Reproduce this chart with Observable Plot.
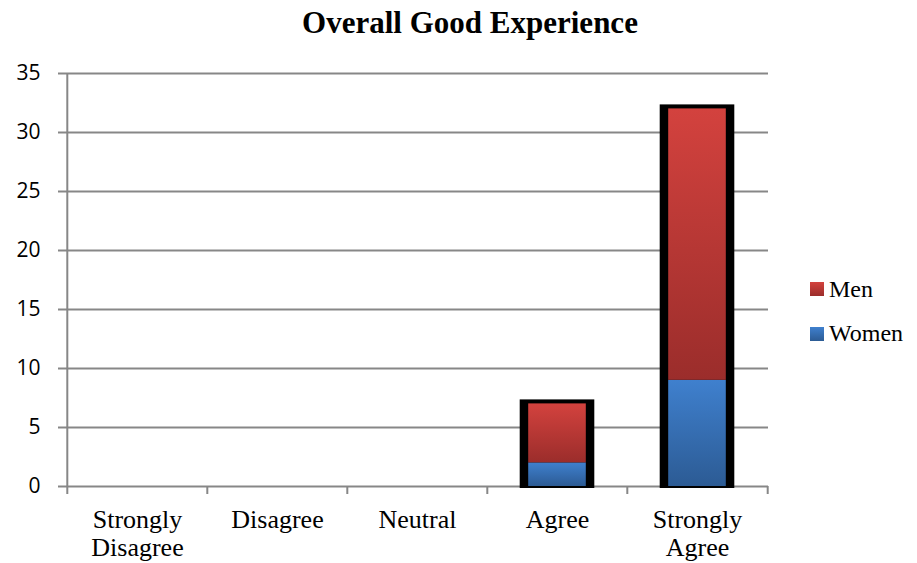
<!DOCTYPE html>
<html>
<head>
<meta charset="utf-8">
<script src="https://cdn.jsdelivr.net/npm/d3@7"></script>
<script src="https://cdn.jsdelivr.net/npm/@observablehq/plot@0.6"></script>
<style>
  body { margin: 0; background: #fff; }
  #wrap { position: relative; width: 917px; height: 563px; overflow: hidden; }
  #wrap svg { position: absolute; left: 0; top: 0; }
  #title { position: absolute; left: 0; width: 940px; top: 7px; text-align: center;
           font: bold 31px "Liberation Serif", serif; line-height: 1; color: #000; }
  .sw { position: absolute; width: 14px; height: 14px; }
  .lt { position: absolute; font: 24px "Liberation Serif", serif; line-height: 1; color: #000; }
</style>
</head>
<body>
<div id="wrap">
  <div id="title">Overall Good Experience</div>
  <div class="sw" style="left:810px;top:282px;background:linear-gradient(#D3423E,#9B2D2B)"></div>
  <div class="lt" style="left:829px;top:277px">Men</div>
  <div class="sw" style="left:810px;top:327px;background:linear-gradient(#3F80CE,#2C5B94)"></div>
  <div class="lt" style="left:829px;top:321px">Women</div>
</div>
<script>
const categories = ["Strongly Disagree", "Disagree", "Neutral", "Agree", "Strongly Agree"];
const xLabels = ["Strongly\nDisagree", "Disagree", "Neutral", "Agree", "Strongly\nAgree"];
const women = [0, 0, 0, 2, 9];
const men = [0, 0, 0, 5, 23];
const yTicks = [0, 5, 10, 15, 20, 25, 30, 35];

const W = 917, H = 563, mL = 66, mR = 149, mT = 73, mB = 77;
const bw = (W - mL - mR) / categories.length;

const womenRows = categories.map((c, i) => ({c, y1: 0, y2: women[i]}));
const menRows = categories.map((c, i) => ({c, y1: women[i], y2: women[i] + men[i]}));
const totalRows = categories.map((c, i) => ({c, total: women[i] + men[i]}));
const labelRows = categories.map((c, i) => ({c, label: xLabels[i]}));

const innerInset = (bw - 58) / 2;
const outerInset = (bw - 75) / 2;

const svg = Plot.plot({
  width: W, height: H,
  marginLeft: mL, marginRight: mR, marginTop: mT, marginBottom: mB,
  style: {fontFamily: "'Open Sans', sans-serif", fontSize: "21px", color: "#000", background: "#fff"},
  x: {domain: categories, padding: 0, axis: null},
  y: {domain: [0, 35], ticks: yTicks, tickSize: 0, tickPadding: 26, label: null},
  marks: [
    Plot.ruleY(yTicks, {stroke: "#878787", strokeWidth: 2, insetLeft: -8}),
    Plot.ruleX([categories[0]], {x: d => d, dx: -bw / 2, stroke: "#878787", strokeWidth: 2, insetBottom: -8}),
    Plot.ruleX(categories.slice(1), {x: d => d, dx: -bw / 2, y1: 0, y2: 0, stroke: "#878787", strokeWidth: 2, insetBottom: -8}),
    Plot.ruleX([categories[categories.length - 1]], {x: d => d, dx: bw / 2, y1: 0, y2: 0, stroke: "#878787", strokeWidth: 2, insetBottom: -8}),
    Plot.barY(totalRows, {x: "c", y: "total", fill: "black", filter: d => d.total > 0,
      insetLeft: outerInset, insetRight: outerInset, insetTop: -4, insetBottom: -2}),
    Plot.barY(womenRows, {x: "c", y1: "y1", y2: "y2", fill: "url(#gWomen)", filter: d => d.y2 > d.y1,
      insetLeft: innerInset, insetRight: innerInset}),
    Plot.barY(menRows, {x: "c", y1: "y1", y2: "y2", fill: "url(#gMen)", filter: d => d.y2 > d.y1,
      insetLeft: innerInset, insetRight: innerInset}),
    Plot.text(labelRows, {x: "c", text: "label", frameAnchor: "bottom", lineAnchor: "top", dy: 21.5,
      lineHeight: 1.09, fontFamily: "'Liberation Serif', serif", fontSize: 26, fill: "#000"})
  ]
});

svg.insertAdjacentHTML("afterbegin",
  `<defs>
    <linearGradient id="gMen" x1="0" y1="0" x2="0" y2="1">
      <stop offset="0" stop-color="#D3423E"/><stop offset="1" stop-color="#9B2D2B"/>
    </linearGradient>
    <linearGradient id="gWomen" x1="0" y1="0" x2="0" y2="1">
      <stop offset="0" stop-color="#3F80CE"/><stop offset="1" stop-color="#2C5B94"/>
    </linearGradient>
  </defs>`);

document.getElementById("wrap").prepend(svg);
</script>
</body>
</html>
